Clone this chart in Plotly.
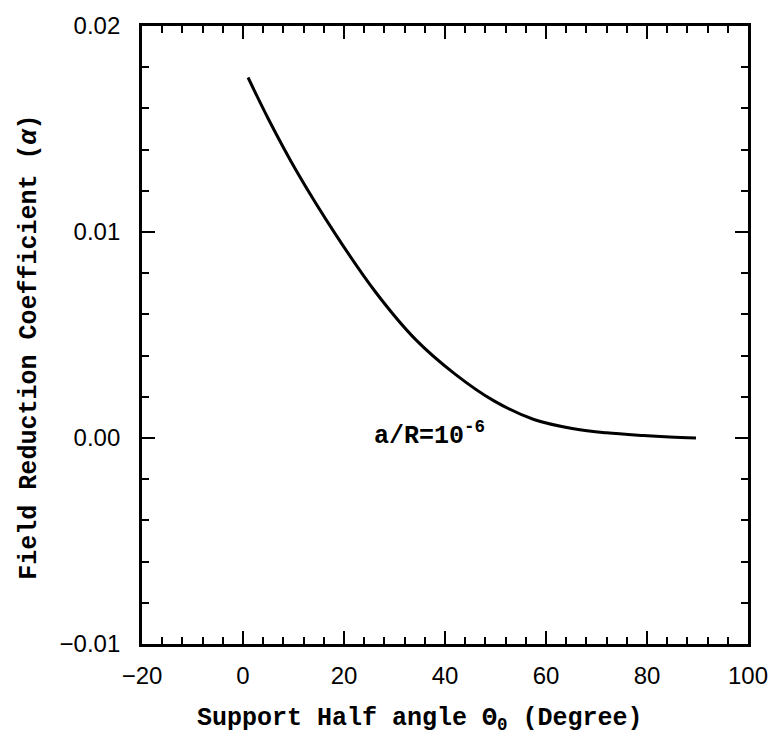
import plotly.graph_objects as go

# Data
theta = [1.0, 5.0, 10.5, 18.3, 26.2, 34.1, 42.0, 49.7, 57.6, 65.5, 72.0, 79.3, 84.5, 89.7]
alpha = [0.0175, 0.0155, 0.0130, 0.0099, 0.0071, 0.0048, 0.0031, 0.0018, 0.0009,
         0.00045, 0.00025, 0.00012, 0.00005, 0.0]

x_ticks = [-20, 0, 20, 40, 60, 80, 100]
y_ticks = [-0.01, 0.00, 0.01, 0.02]
curve_label = "<b>a/R=10<sup>-6</sup></b>"
x_title = "<b>Support Half angle Θ<sub>0</sub> (Degree)</b>"
y_title = "<b>Field Reduction Coefficient (<i>α</i>)</b>"

TYPE_FONT = "Liberation Mono"
TICK_FONT = "Liberation Sans"

fig = go.Figure()
fig.add_trace(go.Scatter(x=theta, y=alpha, mode="lines",
                         line=dict(color="black", width=3, shape="spline", smoothing=1.0),
                         showlegend=False, hoverinfo="skip"))

fig.add_annotation(x=25.5, y=0.0002, xref="x", yref="y", text=curve_label,
                   showarrow=False, xanchor="left", yanchor="middle",
                   font=dict(family=TYPE_FONT, size=25, color="black"))

axis_common = dict(showgrid=False, zeroline=False, showline=True, linecolor="black",
                   linewidth=2.8, mirror="ticks", ticks="inside", tickcolor="black",
                   tickwidth=2.2, ticklen=13, ticklabeloverflow="allow",
                   tickfont=dict(family=TICK_FONT, size=24, color="black"))

fig.update_xaxes(range=[-20, 100], tickvals=x_ticks, ticklabelstandoff=8,
                 minor=dict(ticks="inside", dtick=4, tick0=0, ticklen=7, tickwidth=1.8,
                            tickcolor="black"),
                 **axis_common)
fig.update_yaxes(range=[-0.01, 0.02], tickvals=y_ticks, tickformat=".2f", ticklabelstandoff=14,
                 minor=dict(ticks="inside", dtick=0.002, tick0=0, ticklen=7, tickwidth=1.8,
                            tickcolor="black"),
                 **axis_common)

fig.add_annotation(x=0.458, y=-0.122, xref="paper", yref="paper", text=x_title,
                   showarrow=False, xanchor="center", yanchor="middle",
                   font=dict(family=TYPE_FONT, size=25, color="black"))
fig.add_annotation(x=-0.186, y=0.48, xref="paper", yref="paper", text=y_title,
                   showarrow=False, xanchor="center", yanchor="middle", textangle=-90,
                   font=dict(family=TYPE_FONT, size=25, color="black"))

fig.update_layout(width=780, height=741, margin=dict(l=142, r=21, t=22, b=97),
                  paper_bgcolor="white", plot_bgcolor="white")

fig.write_html("out.html")
